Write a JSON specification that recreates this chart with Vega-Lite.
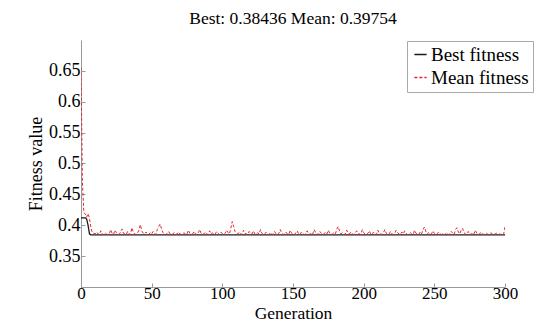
{
  "$schema": "https://vega.github.io/schema/vega-lite/v6.json",
  "width": 424,
  "height": 247,
  "autosize": {"type": "none"},
  "padding": {"left": 81, "top": 40, "right": 44, "bottom": 47},
  "background": "white",
  "title": {"text": "Best: 0.38436 Mean: 0.39754", "font": "Liberation Serif", "fontSize": 17.5, "fontWeight": "normal", "color": "black", "offset": 13, "anchor": "middle"},
  "config": {
    "view": {"stroke": null},
    "axis": {"grid": false, "domainColor": "#999", "tickColor": "#999", "labelFont": "Liberation Serif", "labelFontSize": 18, "labelColor": "black", "titleFont": "Liberation Serif", "titleFontSize": 18, "titleFontWeight": "normal", "titleColor": "black"},
    "legend": {"labelFont": "Liberation Serif", "labelFontSize": 18, "labelColor": "black"}
  },
  "data": {"values": [
{"g":0,"b":0.412,"m":0.655},{"g":1,"b":0.412,"m":0.47},{"g":2,"b":0.412,"m":0.421},{"g":3,"b":0.412,"m":0.418},{"g":4,"b":0.41,"m":0.413},{"g":5,"b":0.4,"m":0.419},{"g":6,"b":0.386,"m":0.411},{"g":7,"b":0.38436,"m":0.396},{"g":8,"b":0.38436,"m":0.388},{"g":9,"b":0.38436,"m":0.387},
{"g":10,"b":0.38436,"m":0.386},{"g":11,"b":0.38436,"m":0.389},{"g":12,"b":0.38436,"m":0.386},{"g":13,"b":0.38436,"m":0.385},{"g":14,"b":0.38436,"m":0.391},{"g":15,"b":0.38436,"m":0.386},{"g":16,"b":0.38436,"m":0.385},{"g":17,"b":0.38436,"m":0.388},{"g":18,"b":0.38436,"m":0.386},{"g":19,"b":0.38436,"m":0.385},
{"g":20,"b":0.38436,"m":0.386},{"g":21,"b":0.38436,"m":0.393},{"g":22,"b":0.38436,"m":0.387},{"g":23,"b":0.38436,"m":0.385},{"g":24,"b":0.38436,"m":0.392},{"g":25,"b":0.38436,"m":0.388},{"g":26,"b":0.38436,"m":0.386},{"g":27,"b":0.38436,"m":0.385},{"g":28,"b":0.38436,"m":0.389},{"g":29,"b":0.38436,"m":0.394},
{"g":30,"b":0.38436,"m":0.387},{"g":31,"b":0.38436,"m":0.386},{"g":32,"b":0.38436,"m":0.385},{"g":33,"b":0.38436,"m":0.39},{"g":34,"b":0.38436,"m":0.386},{"g":35,"b":0.38436,"m":0.385},{"g":36,"b":0.38436,"m":0.396},{"g":37,"b":0.38436,"m":0.389},{"g":38,"b":0.38436,"m":0.386},{"g":39,"b":0.38436,"m":0.385},
{"g":40,"b":0.38436,"m":0.387},{"g":41,"b":0.38436,"m":0.392},{"g":42,"b":0.38436,"m":0.401},{"g":43,"b":0.38436,"m":0.391},{"g":44,"b":0.38436,"m":0.387},{"g":45,"b":0.38436,"m":0.386},{"g":46,"b":0.38436,"m":0.389},{"g":47,"b":0.38436,"m":0.386},{"g":48,"b":0.38436,"m":0.385},{"g":49,"b":0.38436,"m":0.388},
{"g":50,"b":0.38436,"m":0.386},{"g":51,"b":0.38436,"m":0.39},{"g":52,"b":0.38436,"m":0.387},{"g":53,"b":0.38436,"m":0.385},{"g":54,"b":0.38436,"m":0.393},{"g":55,"b":0.38436,"m":0.398},{"g":56,"b":0.38436,"m":0.402},{"g":57,"b":0.38436,"m":0.394},{"g":58,"b":0.38436,"m":0.388},{"g":59,"b":0.38436,"m":0.386},
{"g":60,"b":0.38436,"m":0.385},{"g":61,"b":0.38436,"m":0.387},{"g":62,"b":0.38436,"m":0.39},{"g":63,"b":0.38436,"m":0.386},{"g":64,"b":0.38436,"m":0.385},{"g":65,"b":0.38436,"m":0.386},{"g":66,"b":0.38436,"m":0.388},{"g":67,"b":0.38436,"m":0.385},{"g":68,"b":0.38436,"m":0.386},{"g":69,"b":0.38436,"m":0.389},
{"g":70,"b":0.38436,"m":0.386},{"g":71,"b":0.38436,"m":0.385},{"g":72,"b":0.38436,"m":0.386},{"g":73,"b":0.38436,"m":0.388},{"g":74,"b":0.38436,"m":0.385},{"g":75,"b":0.38436,"m":0.386},{"g":76,"b":0.38436,"m":0.392},{"g":77,"b":0.38436,"m":0.387},{"g":78,"b":0.38436,"m":0.385},{"g":79,"b":0.38436,"m":0.386},
{"g":80,"b":0.38436,"m":0.39},{"g":81,"b":0.38436,"m":0.386},{"g":82,"b":0.38436,"m":0.385},{"g":83,"b":0.38436,"m":0.388},{"g":84,"b":0.38436,"m":0.393},{"g":85,"b":0.38436,"m":0.387},{"g":86,"b":0.38436,"m":0.385},{"g":87,"b":0.38436,"m":0.386},{"g":88,"b":0.38436,"m":0.389},{"g":89,"b":0.38436,"m":0.386},
{"g":90,"b":0.38436,"m":0.385},{"g":91,"b":0.38436,"m":0.391},{"g":92,"b":0.38436,"m":0.386},{"g":93,"b":0.38436,"m":0.388},{"g":94,"b":0.38436,"m":0.385},{"g":95,"b":0.38436,"m":0.386},{"g":96,"b":0.38436,"m":0.39},{"g":97,"b":0.38436,"m":0.387},{"g":98,"b":0.38436,"m":0.385},{"g":99,"b":0.38436,"m":0.389},
{"g":100,"b":0.38436,"m":0.386},{"g":101,"b":0.38436,"m":0.385},{"g":102,"b":0.38436,"m":0.387},{"g":103,"b":0.38436,"m":0.392},{"g":104,"b":0.38436,"m":0.388},{"g":105,"b":0.38436,"m":0.386},{"g":106,"b":0.38436,"m":0.395},{"g":107,"b":0.38436,"m":0.406},{"g":108,"b":0.38436,"m":0.398},{"g":109,"b":0.38436,"m":0.39},
{"g":110,"b":0.38436,"m":0.387},{"g":111,"b":0.38436,"m":0.386},{"g":112,"b":0.38436,"m":0.389},{"g":113,"b":0.38436,"m":0.386},{"g":114,"b":0.38436,"m":0.385},{"g":115,"b":0.38436,"m":0.392},{"g":116,"b":0.38436,"m":0.387},{"g":117,"b":0.38436,"m":0.386},{"g":118,"b":0.38436,"m":0.385},{"g":119,"b":0.38436,"m":0.39},
{"g":120,"b":0.38436,"m":0.387},{"g":121,"b":0.38436,"m":0.386},{"g":122,"b":0.38436,"m":0.391},{"g":123,"b":0.38436,"m":0.386},{"g":124,"b":0.38436,"m":0.385},{"g":125,"b":0.38436,"m":0.388},{"g":126,"b":0.38436,"m":0.386},{"g":127,"b":0.38436,"m":0.393},{"g":128,"b":0.38436,"m":0.387},{"g":129,"b":0.38436,"m":0.385},
{"g":130,"b":0.38436,"m":0.386},{"g":131,"b":0.38436,"m":0.389},{"g":132,"b":0.38436,"m":0.386},{"g":133,"b":0.38436,"m":0.385},{"g":134,"b":0.38436,"m":0.388},{"g":135,"b":0.38436,"m":0.386},{"g":136,"b":0.38436,"m":0.385},{"g":137,"b":0.38436,"m":0.39},{"g":138,"b":0.38436,"m":0.386},{"g":139,"b":0.38436,"m":0.385},
{"g":140,"b":0.38436,"m":0.387},{"g":141,"b":0.38436,"m":0.393},{"g":142,"b":0.38436,"m":0.387},{"g":143,"b":0.38436,"m":0.385},{"g":144,"b":0.38436,"m":0.386},{"g":145,"b":0.38436,"m":0.389},{"g":146,"b":0.38436,"m":0.386},{"g":147,"b":0.38436,"m":0.385},{"g":148,"b":0.38436,"m":0.392},{"g":149,"b":0.38436,"m":0.387},
{"g":150,"b":0.38436,"m":0.386},{"g":151,"b":0.38436,"m":0.385},{"g":152,"b":0.38436,"m":0.388},{"g":153,"b":0.38436,"m":0.391},{"g":154,"b":0.38436,"m":0.386},{"g":155,"b":0.38436,"m":0.385},{"g":156,"b":0.38436,"m":0.389},{"g":157,"b":0.38436,"m":0.386},{"g":158,"b":0.38436,"m":0.385},{"g":159,"b":0.38436,"m":0.387},
{"g":160,"b":0.38436,"m":0.391},{"g":161,"b":0.38436,"m":0.386},{"g":162,"b":0.38436,"m":0.385},{"g":163,"b":0.38436,"m":0.388},{"g":164,"b":0.38436,"m":0.386},{"g":165,"b":0.38436,"m":0.393},{"g":166,"b":0.38436,"m":0.388},{"g":167,"b":0.38436,"m":0.386},{"g":168,"b":0.38436,"m":0.385},{"g":169,"b":0.38436,"m":0.39},
{"g":170,"b":0.38436,"m":0.387},{"g":171,"b":0.38436,"m":0.385},{"g":172,"b":0.38436,"m":0.386},{"g":173,"b":0.38436,"m":0.389},{"g":174,"b":0.38436,"m":0.386},{"g":175,"b":0.38436,"m":0.392},{"g":176,"b":0.38436,"m":0.387},{"g":177,"b":0.38436,"m":0.385},{"g":178,"b":0.38436,"m":0.386},{"g":179,"b":0.38436,"m":0.388},
{"g":180,"b":0.38436,"m":0.386},{"g":181,"b":0.38436,"m":0.394},{"g":182,"b":0.38436,"m":0.398},{"g":183,"b":0.38436,"m":0.39},{"g":184,"b":0.38436,"m":0.386},{"g":185,"b":0.38436,"m":0.388},{"g":186,"b":0.38436,"m":0.386},{"g":187,"b":0.38436,"m":0.385},{"g":188,"b":0.38436,"m":0.392},{"g":189,"b":0.38436,"m":0.387},
{"g":190,"b":0.38436,"m":0.386},{"g":191,"b":0.38436,"m":0.389},{"g":192,"b":0.38436,"m":0.386},{"g":193,"b":0.38436,"m":0.385},{"g":194,"b":0.38436,"m":0.387},{"g":195,"b":0.38436,"m":0.391},{"g":196,"b":0.38436,"m":0.387},{"g":197,"b":0.38436,"m":0.386},{"g":198,"b":0.38436,"m":0.385},{"g":199,"b":0.38436,"m":0.393},
{"g":200,"b":0.38436,"m":0.388},{"g":201,"b":0.38436,"m":0.386},{"g":202,"b":0.38436,"m":0.385},{"g":203,"b":0.38436,"m":0.387},{"g":204,"b":0.38436,"m":0.391},{"g":205,"b":0.38436,"m":0.386},{"g":206,"b":0.38436,"m":0.385},{"g":207,"b":0.38436,"m":0.389},{"g":208,"b":0.38436,"m":0.386},{"g":209,"b":0.38436,"m":0.385},
{"g":210,"b":0.38436,"m":0.392},{"g":211,"b":0.38436,"m":0.387},{"g":212,"b":0.38436,"m":0.386},{"g":213,"b":0.38436,"m":0.385},{"g":214,"b":0.38436,"m":0.388},{"g":215,"b":0.38436,"m":0.393},{"g":216,"b":0.38436,"m":0.387},{"g":217,"b":0.38436,"m":0.385},{"g":218,"b":0.38436,"m":0.386},{"g":219,"b":0.38436,"m":0.39},
{"g":220,"b":0.38436,"m":0.386},{"g":221,"b":0.38436,"m":0.385},{"g":222,"b":0.38436,"m":0.387},{"g":223,"b":0.38436,"m":0.392},{"g":224,"b":0.38436,"m":0.388},{"g":225,"b":0.38436,"m":0.386},{"g":226,"b":0.38436,"m":0.385},{"g":227,"b":0.38436,"m":0.389},{"g":228,"b":0.38436,"m":0.386},{"g":229,"b":0.38436,"m":0.391},
{"g":230,"b":0.38436,"m":0.387},{"g":231,"b":0.38436,"m":0.385},{"g":232,"b":0.38436,"m":0.386},{"g":233,"b":0.38436,"m":0.388},{"g":234,"b":0.38436,"m":0.386},{"g":235,"b":0.38436,"m":0.385},{"g":236,"b":0.38436,"m":0.392},{"g":237,"b":0.38436,"m":0.387},{"g":238,"b":0.38436,"m":0.386},{"g":239,"b":0.38436,"m":0.385},
{"g":240,"b":0.38436,"m":0.389},{"g":241,"b":0.38436,"m":0.386},{"g":242,"b":0.38436,"m":0.393},{"g":243,"b":0.38436,"m":0.397},{"g":244,"b":0.38436,"m":0.39},{"g":245,"b":0.38436,"m":0.386},{"g":246,"b":0.38436,"m":0.388},{"g":247,"b":0.38436,"m":0.385},{"g":248,"b":0.38436,"m":0.386},{"g":249,"b":0.38436,"m":0.391},
{"g":250,"b":0.38436,"m":0.387},{"g":251,"b":0.38436,"m":0.385},{"g":252,"b":0.38436,"m":0.386},{"g":253,"b":0.38436,"m":0.389},{"g":254,"b":0.38436,"m":0.386},{"g":255,"b":0.38436,"m":0.385},{"g":256,"b":0.38436,"m":0.387},{"g":257,"b":0.38436,"m":0.385},{"g":258,"b":0.38436,"m":0.386},{"g":259,"b":0.38436,"m":0.388},
{"g":260,"b":0.38436,"m":0.385},{"g":261,"b":0.38436,"m":0.386},{"g":262,"b":0.38436,"m":0.39},{"g":263,"b":0.38436,"m":0.387},{"g":264,"b":0.38436,"m":0.385},{"g":265,"b":0.38436,"m":0.393},{"g":266,"b":0.38436,"m":0.396},{"g":267,"b":0.38436,"m":0.389},{"g":268,"b":0.38436,"m":0.386},{"g":269,"b":0.38436,"m":0.392},
{"g":270,"b":0.38436,"m":0.395},{"g":271,"b":0.38436,"m":0.388},{"g":272,"b":0.38436,"m":0.386},{"g":273,"b":0.38436,"m":0.385},{"g":274,"b":0.38436,"m":0.39},{"g":275,"b":0.38436,"m":0.386},{"g":276,"b":0.38436,"m":0.385},{"g":277,"b":0.38436,"m":0.388},{"g":278,"b":0.38436,"m":0.386},{"g":279,"b":0.38436,"m":0.392},
{"g":280,"b":0.38436,"m":0.387},{"g":281,"b":0.38436,"m":0.385},{"g":282,"b":0.38436,"m":0.386},{"g":283,"b":0.38436,"m":0.389},{"g":284,"b":0.38436,"m":0.386},{"g":285,"b":0.38436,"m":0.385},{"g":286,"b":0.38436,"m":0.386},{"g":287,"b":0.38436,"m":0.387},{"g":288,"b":0.38436,"m":0.385},{"g":289,"b":0.38436,"m":0.386},
{"g":290,"b":0.38436,"m":0.388},{"g":291,"b":0.38436,"m":0.386},{"g":292,"b":0.38436,"m":0.385},{"g":293,"b":0.38436,"m":0.386},{"g":294,"b":0.38436,"m":0.387},{"g":295,"b":0.38436,"m":0.385},{"g":296,"b":0.38436,"m":0.386},{"g":297,"b":0.38436,"m":0.385},{"g":298,"b":0.38436,"m":0.386},{"g":299,"b":0.38436,"m":0.385},
{"g":300,"b":0.38436,"m":0.39754}
  ]},
  "encoding": {
    "x": {"field": "g", "type": "quantitative", "title": "Generation", "scale": {"domain": [0, 300], "nice": false}, "axis": {"values": [0, 50, 100, 150, 200, 250, 300], "tickSize": -4, "labelPadding": 2, "titlePadding": 3, "labelFlush": false, "labelFontSize": 17, "titleFontSize": 17.5, "labelFont": "Liberation Serif", "titleFont": "Liberation Serif"}}
  },
  "layer": [
    {
      "mark": {"type": "line", "strokeWidth": 1.3, "clip": true},
      "encoding": {
        "y": {"field": "b", "type": "quantitative", "title": "Fitness value", "scale": {"domain": [0.3, 0.7], "nice": false, "zero": false}, "axis": {"values": [0.35, 0.4, 0.45, 0.5, 0.55, 0.6, 0.65], "format": "~g", "tickSize": -4, "labelPadding": 5, "titlePadding": 3, "labelFont": "Liberation Serif", "titleFont": "Liberation Serif"}},
        "color": {"datum": "Best fitness", "type": "nominal", "scale": {"domain": ["Best fitness", "Mean fitness"], "range": ["#1a1a1a", "#e8262e"]}, "title": null, "legend": {"orient": "none", "legendX": 326, "legendY": 1, "strokeColor": "#aaa", "fillColor": "white", "padding": 4, "symbolType": "stroke", "symbolSize": 150, "symbolStrokeWidth": 1.5, "symbolOpacity": 1, "labelOffset": 1, "rowPadding": 3, "labelFont": "Liberation Serif", "labelFontSize": 19}},
        "strokeDash": {"datum": "Best fitness", "type": "nominal", "scale": {"domain": ["Best fitness", "Mean fitness"], "range": [[1, 0], [3, 2]]}, "title": null}
      }
    },
    {
      "mark": {"type": "line", "strokeWidth": 1, "clip": true},
      "encoding": {
        "y": {"field": "m", "type": "quantitative"},
        "color": {"datum": "Mean fitness", "type": "nominal"},
        "strokeDash": {"datum": "Mean fitness", "type": "nominal"}
      }
    }
  ]
}
